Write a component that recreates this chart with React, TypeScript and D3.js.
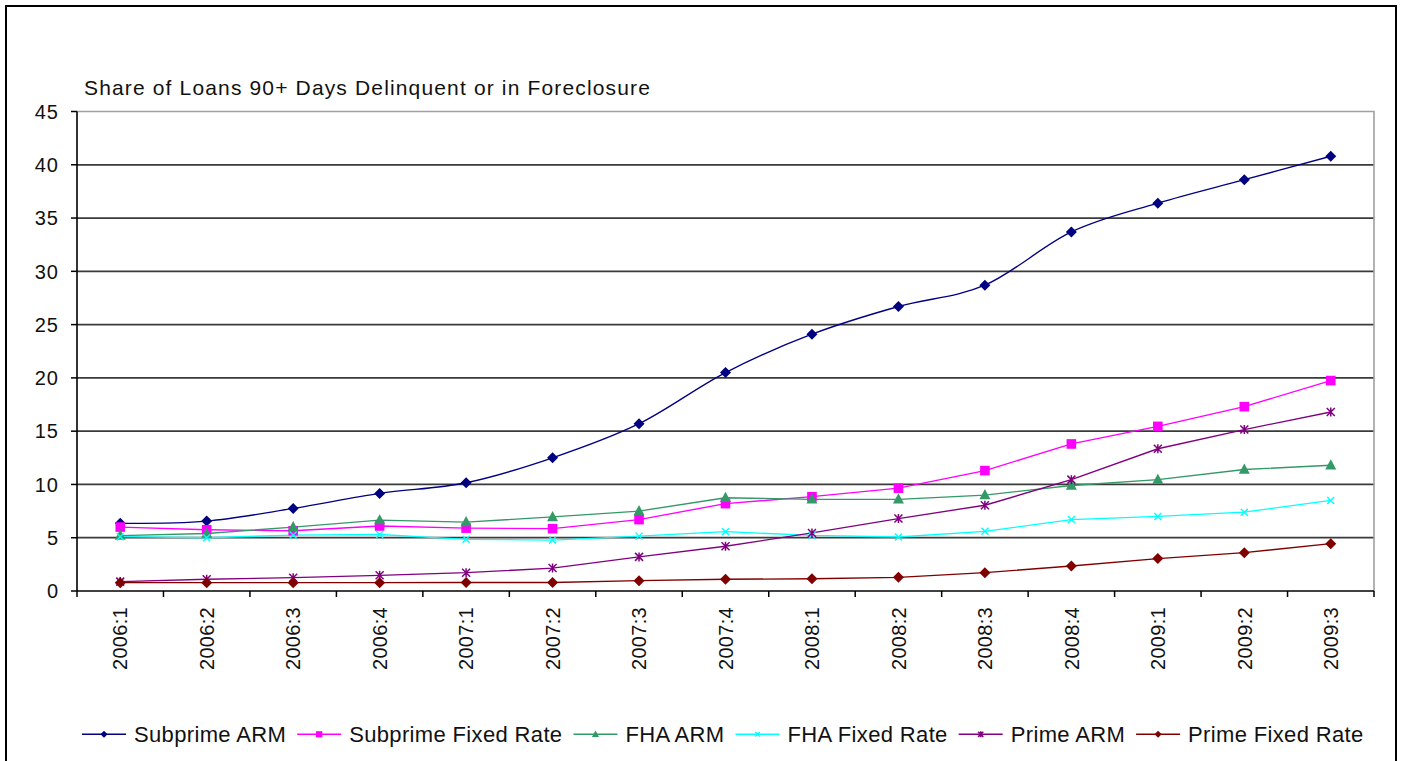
import React, { useEffect, useRef } from "react";
import * as d3 from "d3";

// Quarterly share of loans 90+ days delinquent or in foreclosure (%)
const quarters = [
  "2006:1", "2006:2", "2006:3", "2006:4",
  "2007:1", "2007:2", "2007:3", "2007:4",
  "2008:1", "2008:2", "2008:3", "2008:4",
  "2009:1", "2009:2", "2009:3",
];
const subprimeArm = [6.35, 6.56, 7.75, 9.16, 10.16, 12.5, 15.7, 20.5, 24.1, 26.7, 28.7, 33.7, 36.4, 38.6, 40.8];
const subprimeFixed = [6.0, 5.75, 5.65, 6.1, 5.9, 5.85, 6.7, 8.2, 8.85, 9.65, 11.3, 13.8, 15.45, 17.3, 19.75];
const fhaArm = [5.2, 5.4, 6.0, 6.65, 6.47, 6.95, 7.5, 8.75, 8.6, 8.6, 9.0, 9.9, 10.45, 11.4, 11.8];
const fhaFixed = [5.1, 5.0, 5.25, 5.3, 4.85, 4.78, 5.15, 5.57, 5.22, 5.07, 5.6, 6.7, 7.0, 7.4, 8.5];
const primeArm = [0.88, 1.1, 1.25, 1.47, 1.72, 2.15, 3.2, 4.2, 5.45, 6.8, 8.05, 10.45, 13.35, 15.15, 16.8];
const primeFixed = [0.78, 0.78, 0.78, 0.78, 0.8, 0.8, 0.97, 1.1, 1.15, 1.28, 1.72, 2.35, 3.04, 3.6, 4.44];

const yTicks = [0, 5, 10, 15, 20, 25, 30, 35, 40, 45];
const title = "Share of Loans 90+ Days Delinquent or in Foreclosure";

type Marker = "diamond" | "square" | "triangle" | "x" | "asterisk";
interface Series {
  name: string;
  values: number[];
  color: string;
  marker: Marker;
  smooth?: boolean;
}

const series: Series[] = [
  { name: "Subprime ARM", values: subprimeArm, color: "#000080", marker: "diamond", smooth: true },
  { name: "Subprime Fixed Rate", values: subprimeFixed, color: "#ff00ff", marker: "square" },
  { name: "FHA ARM", values: fhaArm, color: "#339966", marker: "triangle" },
  { name: "FHA Fixed Rate", values: fhaFixed, color: "#00ffff", marker: "x" },
  { name: "Prime ARM", values: primeArm, color: "#800080", marker: "asterisk" },
  { name: "Prime Fixed Rate", values: primeFixed, color: "#800000", marker: "diamond" },
];

const W = 1401;
const H = 761;
const FONT = "'Liberation Sans', Arial, sans-serif";

function drawMarker(
  g: d3.Selection<SVGGElement, unknown, null, undefined>,
  kind: Marker,
  color: string,
  s: number
) {
  if (kind === "diamond") {
    g.append("path")
      .attr("d", `M0,${-5.5 * s}L${5.5 * s},0L0,${5.5 * s}L${-5.5 * s},0Z`)
      .attr("fill", color);
  } else if (kind === "square") {
    g.append("rect")
      .attr("x", -4.8 * s)
      .attr("y", -4.8 * s)
      .attr("width", 9.6 * s)
      .attr("height", 9.6 * s)
      .attr("fill", color);
  } else if (kind === "triangle") {
    g.append("path")
      .attr("d", `M0,${-6 * s}L${5.5 * s},${4.2 * s}L${-5.5 * s},${4.2 * s}Z`)
      .attr("fill", color);
  } else if (kind === "x") {
    g.append("path")
      .attr("d", `M${-3.5 * s},${-3.5 * s}L${3.5 * s},${3.5 * s}M${3.5 * s},${-3.5 * s}L${-3.5 * s},${3.5 * s}`)
      .attr("stroke", color)
      .attr("stroke-width", 1.4)
      .attr("fill", "none");
  } else {
    g.append("path")
      .attr(
        "d",
        `M${-4 * s},${-4 * s}L${4 * s},${4 * s}M${4 * s},${-4 * s}L${-4 * s},${4 * s}M0,${-4.5 * s}L0,${4.5 * s}`
      )
      .attr("stroke", color)
      .attr("stroke-width", 1.5)
      .attr("fill", "none");
  }
}

export default function App() {
  const ref = useRef<SVGSVGElement | null>(null);

  useEffect(() => {
    const svg = d3.select(ref.current!);
    svg.selectAll("*").remove();

    const left = 77;
    const right = 1374;
    const top = 111.5;
    const bottom = 591;

    const x = d3.scaleBand<string>().domain(quarters).range([left, right]).paddingInner(0).paddingOuter(0);
    const cx = (q: string) => (x(q) as number) + x.bandwidth() / 2;
    const y = d3.scaleLinear().domain([0, 45]).range([bottom, top]);

    svg.append("rect").attr("width", W).attr("height", H).attr("fill", "#fff");

    // outer frame
    svg
      .append("rect")
      .attr("x", 6)
      .attr("y", 6)
      .attr("width", 1390)
      .attr("height", 820)
      .attr("fill", "none")
      .attr("stroke", "#000")
      .attr("stroke-width", 2);

    // title
    svg
      .append("text")
      .attr("x", 84)
      .attr("y", 95)
      .attr("font-family", FONT)
      .attr("font-size", 21)
      .attr("letter-spacing", 1.15)
      .attr("fill", "#111")
      .text(title);

    // horizontal gridlines
    svg
      .append("g")
      .selectAll("line")
      .data(yTicks.filter((t) => t > 0 && t < 45))
      .join("line")
      .attr("x1", left)
      .attr("x2", right)
      .attr("y1", (d) => y(d))
      .attr("y2", (d) => y(d))
      .attr("stroke", "#3a3a3a")
      .attr("stroke-width", 1.7);

    // plot area border (top and right)
    svg
      .append("path")
      .attr("d", `M${left},${y(45)}H${right}V${bottom}`)
      .attr("fill", "none")
      .attr("stroke", "#a0a0a0")
      .attr("stroke-width", 1.6);

    // y axis
    const ya = svg.append("g");
    ya.append("line")
      .attr("x1", left)
      .attr("x2", left)
      .attr("y1", y(45))
      .attr("y2", bottom)
      .attr("stroke", "#000")
      .attr("stroke-width", 1.6);
    ya.selectAll("line.tick")
      .data(yTicks)
      .join("line")
      .attr("class", "tick")
      .attr("x1", left - 6)
      .attr("x2", left)
      .attr("y1", (d) => y(d))
      .attr("y2", (d) => y(d))
      .attr("stroke", "#000")
      .attr("stroke-width", 1.5);
    ya.selectAll("text")
      .data(yTicks)
      .join("text")
      .attr("x", 59)
      .attr("y", (d) => y(d))
      .attr("dy", "0.36em")
      .attr("text-anchor", "end")
      .attr("font-family", FONT)
      .attr("font-size", 20)
      .attr("letter-spacing", 1)
      .attr("fill", "#111")
      .text((d) => String(d));

    // x axis
    const xa = svg.append("g");
    xa.append("line")
      .attr("x1", left)
      .attr("x2", right)
      .attr("y1", bottom)
      .attr("y2", bottom)
      .attr("stroke", "#000")
      .attr("stroke-width", 1.6);
    const bounds = d3.range(quarters.length + 1).map((i) => left + i * x.step());
    xa.selectAll("line.tick")
      .data(bounds)
      .join("line")
      .attr("class", "tick")
      .attr("x1", (d) => d)
      .attr("x2", (d) => d)
      .attr("y1", bottom)
      .attr("y2", bottom + 6)
      .attr("stroke", "#000")
      .attr("stroke-width", 1.5);
    xa.selectAll("text")
      .data(quarters)
      .join("text")
      .attr("transform", (d) => `translate(${cx(d)},607) rotate(-90)`)
      .attr("dy", "0.36em")
      .attr("text-anchor", "end")
      .attr("font-family", FONT)
      .attr("font-size", 20)
      .attr("letter-spacing", 0.3)
      .attr("fill", "#111")
      .text((d) => d);

    // series lines and markers
    const plot = svg.append("g");
    series.forEach((s) => {
      const pts: [number, number][] = s.values.map((v, i) => [cx(quarters[i]), y(v)]);
      const line = d3
        .line<[number, number]>()
        .x((p) => p[0])
        .y((p) => p[1])
        .curve(s.smooth ? d3.curveCatmullRom.alpha(0) : d3.curveLinear);
      plot
        .append("path")
        .attr("d", line(pts))
        .attr("fill", "none")
        .attr("stroke", s.color)
        .attr("stroke-width", 1.35);
    });
    series.forEach((s) => {
      s.values.forEach((v, i) => {
        const g = plot.append("g").attr("transform", `translate(${cx(quarters[i])},${y(v)})`);
        drawMarker(g, s.marker, s.color, 1);
      });
    });

    // legend
    const legend = svg.append("g");
    let lx = 82;
    const ly = 734.3;
    series.forEach((s) => {
      legend
        .append("line")
        .attr("x1", lx)
        .attr("x2", lx + 44)
        .attr("y1", ly)
        .attr("y2", ly)
        .attr("stroke", s.color)
        .attr("stroke-width", 1.5);
      const g = legend.append("g").attr("transform", `translate(${lx + 22},${ly})`);
      drawMarker(g, s.marker, s.color, 0.65);
      const t = legend
        .append("text")
        .attr("x", lx + 52)
        .attr("y", ly + 7.5)
        .attr("font-family", FONT)
        .attr("font-size", 22)
        .attr("letter-spacing", 0.35)
        .attr("fill", "#111")
        .text(s.name);
      const w = (t.node() as SVGTextElement).getComputedTextLength();
      lx = lx + 52 + w + 11;
    });
  }, []);

  return (
    <svg
      ref={ref}
      width={W}
      height={H}
      style={{ position: "absolute", left: 0, top: 0, display: "block" }}
    />
  );
}
